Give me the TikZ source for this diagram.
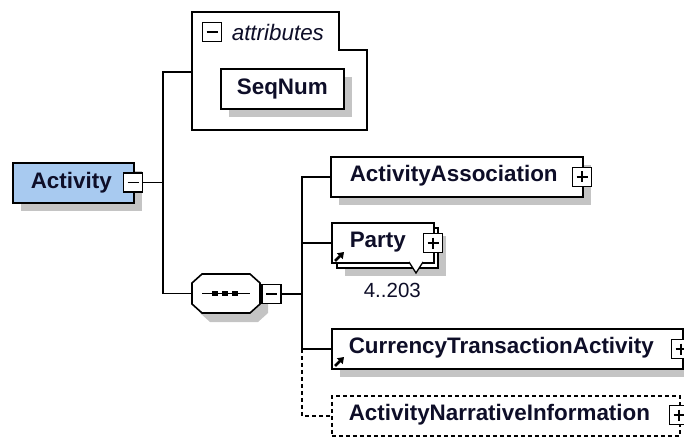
\documentclass[tikz,border=0pt]{standalone}
\usepackage{fontspec}
\setmainfont{Liberation Sans}
\usetikzlibrary{shadows,arrows.meta}
\definecolor{actblue}{RGB}{168,202,240}
\definecolor{shgrey}{RGB}{196,196,196}
\definecolor{txt}{RGB}{14,14,40}
\begin{document}
\begin{tikzpicture}[x=1pt,y=-1pt, line width=1.6pt,
  lbl/.style={font=\bfseries\fontsize{22.4}{24}\selectfont, text=txt, inner sep=0, anchor=west},
  box/.style={draw, fill=white, inner sep=0, anchor=north west, minimum height=40pt},
  shad/.style={drop shadow={shadow xshift=8pt, shadow yshift=-8pt, opacity=1, fill=shgrey}},
  tog/.style={draw, fill=white, inner sep=0, minimum size=19pt, line width=1.4pt},
  minus/.style={tog, path picture={\draw[line width=1.4pt] ([xshift=4pt]path picture bounding box.west) -- ([xshift=-4pt]path picture bounding box.east);}},
  plus/.style={tog, path picture={\draw[line width=1.4pt] ([xshift=4pt]path picture bounding box.west) -- ([xshift=-4pt]path picture bounding box.east) ([yshift=-4pt]path picture bounding box.north) -- ([yshift=4pt]path picture bounding box.south);}},
  refarrow/.style={line width=2.6pt, -{Triangle[length=6pt,width=8pt]}},
  dsh/.style={dash pattern=on 4pt off 3pt}
]
\useasboundingbox (0,0) rectangle (684,438);

% Activity
\node[box, fill=actblue, shad, minimum width=121pt] (act) at (12,162) {};
\node[lbl] (actl) at (30,182.5) {Activity};
\node[minus] (actm) at (133,182.5) {};

% attributes group
\draw[fill=white] (192,12) -- (339,12) -- (339,50) -- (367,50) -- (367,130) -- (192,130) -- cycle;
\coordinate (attrL) at (192,72);
\node[minus] (attrm) at (212,32) {};
\node[font=\itshape\fontsize{22.4}{24}\selectfont, text=txt, inner sep=0, anchor=west] (attrl) at (231,32) {attributes};
\node[box, shad, minimum width=123pt] (seq) at (220,68) {};
\node[lbl, anchor=center] (seql) at (seq.center) {SeqNum};

% sequence compositor
\node[minimum width=68pt, minimum height=39pt, inner sep=0] (comp) at (226,293.5) {};
\begin{scope}[shift={(comp.center)}]
  \fill[shgrey, xshift=8pt, yshift=-9pt] (-24,-19.5) -- (24,-19.5) -- (34,-10.5) -- (34,10.5) -- (24,19.5) -- (-24,19.5) -- (-34,10.5) -- (-34,-10.5) -- cycle;
  \draw[fill=white] (-24,-19.5) -- (24,-19.5) -- (34,-10.5) -- (34,10.5) -- (24,19.5) -- (-24,19.5) -- (-34,10.5) -- (-34,-10.5) -- cycle;
  \draw (-24,0) -- (24,0);
  \foreach \i in {-11,-1,9} \fill (\i-2.8,-2.8) rectangle (\i+2.8,2.8);
\end{scope}
\node[minus] (compm) at (271.5,294) {};

% children
\node[box, shad, minimum width=252pt] (aa) at (330,156) {};
\node[lbl] (aal) at (349,176) {ActivityAssociation};
\node[plus] (aap) at (582,177) {};

\node[box, shad, minimum width=101pt] (partyb) at (336,227) {};
\node[box, minimum width=102pt] (party) at (331,222) {};
\draw[fill=white, line width=1.3pt] (409,262) -- (416,273) -- (423,262);
\node[lbl] (partyl) at (349,242) {Party};
\node[plus] (partyp) at (433,243) {};
\draw[refarrow] (335,261) -- (344,252);
\node[font=\fontsize{20.5}{22}\selectfont, text=txt, inner sep=0, anchor=west] (occ) at (363,290) {4..203};

\node[box, shad, minimum width=351pt] (cta) at (331,328) {};
\node[lbl] (ctal) at (348,348) {CurrencyTransactionActivity};
\node[plus] (ctap) at (681,349) {};
\draw[refarrow] (335,366) -- (344,357);

\node[box, dsh, minimum width=348pt] (ani) at (331,395) {};
\node[lbl] (anil) at (348,415) {ActivityNarrativeInformation};
\node[plus] (anip) at (679,415) {};

% connectors
\coordinate (j1) at (163,182.5);
\coordinate (j2) at (302,294);
\draw (actm.east) -- (j1);
\draw (attrL) -| (j1) |- (comp.west);
\draw (compm.east) -- (j2);
\draw (aa.west) -| (j2 |- cta.west) -- (cta.west);
\draw (party.west) -- (party.west -| j2);
\draw[dsh] (j2 |- cta.west) |- (ani.west);
\end{tikzpicture}
\end{document}
